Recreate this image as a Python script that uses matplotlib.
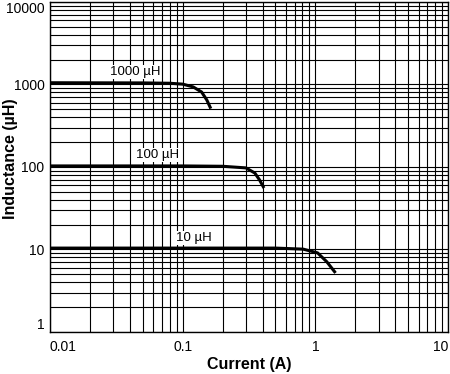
import matplotlib.pyplot as plt
from matplotlib.ticker import LogLocator, FixedLocator, NullFormatter

plt.rcParams["font.family"] = ["Liberation Sans", "DejaVu Sans"]

# current (A) / inductance (uH)
i_1000 = [0.01, 0.05, 0.08, 0.10, 0.12, 0.139, 0.152, 0.163]
l_1000 = [1050, 1045, 1035, 1010, 935, 810, 650, 510]

i_100 = [0.01, 0.10, 0.20, 0.30, 0.35, 0.38, 0.41]
l_100 = [103, 103, 102, 97.5, 84.5, 69.6, 55.6]

i_10 = [0.01, 0.50, 0.81, 1.04, 1.22, 1.42]
l_10 = [10.4, 10.4, 10.1, 9.1, 7.1, 5.2]

labels = ["1000 µH", "100 µH", "10 µH"]
label_pos = [(0.0438, 1420), (0.0652, 140), (0.122, 13.8)]

x_ticks = [0.01, 0.1, 1, 10]
x_ticklabels = ["0.01", "0.1", "1", "10"]
y_ticks = [1, 10, 100, 1000, 10000]
y_ticklabels = ["1", "10", "100", "1000", "10000"]

fig = plt.figure(figsize=(4.5, 3.74), dpi=100)
ax = fig.add_axes([0.111, 0.1123, 0.8846, 0.8824])
ax.set_xscale("log")
ax.set_yscale("log")
ax.set_xlim(0.01, 10)
ax.set_ylim(1, 10000)

ax.xaxis.set_major_locator(FixedLocator(x_ticks))
ax.set_xticklabels(x_ticklabels)
ax.yaxis.set_major_locator(FixedLocator(y_ticks))
ax.set_yticklabels(y_ticklabels)
ax.xaxis.set_minor_locator(LogLocator(base=10, subs=range(2, 10)))
ax.yaxis.set_minor_locator(LogLocator(base=10, subs=range(2, 10)))
ax.xaxis.set_minor_formatter(NullFormatter())
ax.yaxis.set_minor_formatter(NullFormatter())
ax.tick_params(which="both", length=0, labelsize=10, colors="black")
ax.tick_params(axis="x", pad=6)
ax.tick_params(axis="y", pad=4)

# end labels sit inside the plot width/height like the original
xt = ax.get_xticklabels()
xt[0].set_ha("left")
xt[-1].set_ha("right")
yt = ax.get_yticklabels()
yt[0].set_va("bottom")
yt[-1].set_va("top")

ax.grid(True, which="both", color="black", linewidth=0.8)
ax.set_axisbelow(True)
for s in ax.spines.values():
    s.set_linewidth(1.0)

for xs, ys in [(i_1000, l_1000), (i_100, l_100), (i_10, l_10)]:
    ax.plot(xs, ys, color="black", linewidth=2.2, solid_capstyle="butt")

for text, (x, y) in zip(labels, label_pos):
    ax.text(x, y, text, fontsize=9.5, ha="center", va="center",
            bbox=dict(facecolor="white", edgecolor="none", pad=0.5))

ax.set_xlabel("Current (A)", fontsize=11.5, fontweight="bold", labelpad=2)
fig.text(11 / 450, 1 - 159 / 374, "Inductance (µH)", fontsize=11.5,
         fontweight="bold", rotation=90, ha="center", va="center")

fig.savefig("out.png", dpi=100)
